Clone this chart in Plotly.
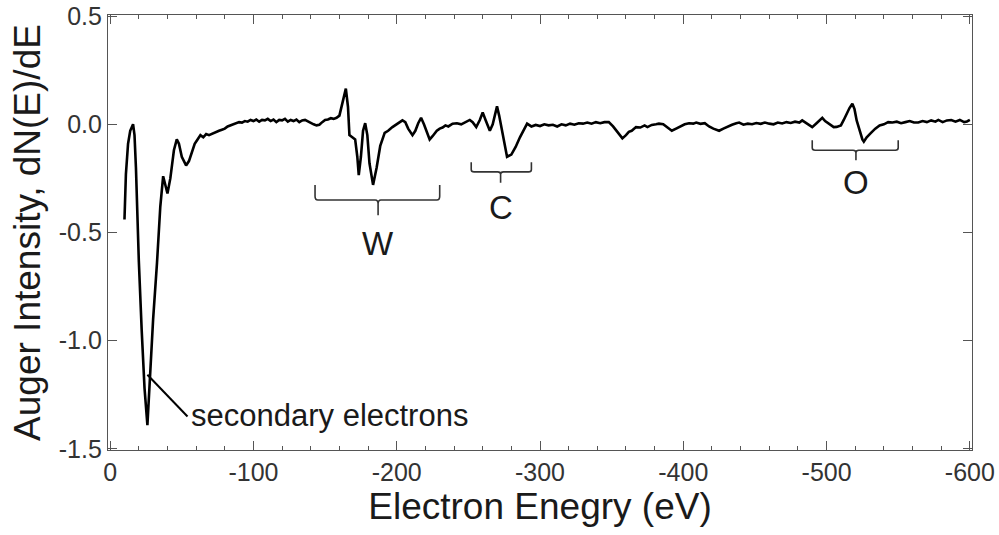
import plotly.graph_objects as go

# ---------------- data ----------------
energy_ev = [10, 11, 12.5, 14, 16, 17, 18, 19, 20, 22, 24, 26, 28, 30, 32.7, 35, 37, 38.5, 40, 42,
             44.5, 46.5, 48, 50, 53, 55, 57, 59, 61, 63, 65, 67, 69, 72, 74, 76, 78, 80, 82, 84,
             86, 88, 90, 92, 94, 96, 98, 100, 102, 104, 106, 108, 110, 112, 114, 116, 118, 120, 122, 124,
             126, 128, 130, 132, 134, 136, 138, 140, 142, 144, 146, 148, 150, 152, 154, 156, 158, 160, 162, 164.5,
             166, 167, 169, 171, 172.5, 173.5, 175, 176.5, 178, 179.5, 181, 183.5, 186, 188.5, 191.6, 194, 197, 199, 201, 204,
             206, 208, 211, 213, 215, 217, 219, 221, 223, 225, 228, 230, 232, 234, 236, 239, 242, 245, 248, 251,
             253, 255.5, 258, 260, 262, 265, 267, 268.5, 270, 271.5, 273, 275, 277, 280, 283, 286, 289, 291, 294, 297,
             300, 303, 306, 309, 312, 315, 318, 321, 324, 327, 330, 333, 336, 339, 342, 345, 348, 351, 354, 357.5,
             360, 362, 364, 367, 370, 373, 375, 378, 381, 383, 386, 389, 392, 395, 398, 401, 404, 407, 409, 412,
             415, 418, 421, 423, 425, 428, 431, 434, 437, 439, 442, 445, 448, 451, 454, 457, 460, 463, 466, 469,
             472, 475, 478, 481, 483, 485, 487, 490, 493, 495, 497, 499, 502, 505, 507, 510, 512, 514, 516, 518,
             519.5, 521, 523, 525, 526, 528, 531, 534, 537, 540, 543, 546, 549, 552, 555, 558, 561, 564, 567, 570,
             573, 576, 578, 581, 584, 587, 590, 593, 596, 598, 600]

intensity = [-0.44, -0.23, -0.09, -0.03, 0.0, -0.05, -0.2, -0.42, -0.63, -0.95, -1.22, -1.39, -1.15, -0.9, -0.64, -0.38, -0.24, -0.28, -0.32, -0.25,
             -0.12, -0.07, -0.09, -0.15, -0.19, -0.17, -0.13, -0.09, -0.07, -0.05, -0.06, -0.045, -0.05, -0.04, -0.035, -0.03, -0.025, -0.02, -0.01, -0.005,
             0.0, 0.005, 0.01, 0.008, 0.015, 0.012, 0.02, 0.015, 0.022, 0.012, 0.02, 0.018, 0.025, 0.015, 0.022, 0.01, 0.02, 0.018, 0.025, 0.012,
             0.02, 0.015, 0.022, 0.01, 0.018, 0.02, 0.012, 0.008, 0.0, -0.005, -0.002, 0.01, 0.02, 0.022, 0.028, 0.025, 0.03, 0.04, 0.09, 0.165,
             0.08, -0.05, -0.06, -0.07, -0.15, -0.235, -0.15, -0.03, 0.005, -0.05, -0.18, -0.28, -0.2, -0.1, -0.04, -0.03, -0.013, -0.005, 0.005, 0.018,
             0.01, -0.02, -0.05, -0.03, 0.005, 0.03, 0.0, -0.04, -0.07, -0.055, -0.03, -0.02, -0.015, -0.005, -0.01, 0.003, 0.005, 0.0, 0.012, 0.02,
             0.01, -0.013, 0.02, 0.055, 0.02, -0.03, 0.0, 0.05, 0.083, 0.04, -0.013, -0.09, -0.15, -0.14, -0.105, -0.06, -0.02, 0.003, -0.01, -0.003,
             -0.008, 0.0, -0.005, -0.002, -0.01, 0.0, -0.005, 0.003, -0.002, 0.005, 0.003, 0.008, 0.003, 0.01, 0.005, 0.01, 0.01, -0.01, -0.035, -0.065,
             -0.05, -0.035, -0.03, -0.013, -0.015, -0.005, -0.013, -0.003, 0.0, 0.003, 0.0, -0.015, -0.03, -0.02, -0.01, 0.0, 0.005, 0.003, 0.008, 0.002,
             0.005, -0.01, -0.02, -0.025, -0.03, -0.02, -0.01, -0.002, 0.005, 0.008, -0.002, 0.003, 0.0, 0.006, 0.002, 0.008, 0.003, 0.0, 0.008, 0.004,
             0.01, 0.006, 0.012, 0.008, 0.018, 0.01, 0.0, -0.013, 0.005, 0.02, 0.03, 0.015, 0.0, -0.013, -0.012, -0.005, 0.02, 0.05, 0.075, 0.095,
             0.07, 0.018, -0.03, -0.07, -0.08, -0.06, -0.04, -0.02, -0.005, 0.0, 0.01, 0.008, 0.012, 0.005, 0.01, 0.015, 0.008, 0.008, 0.015, 0.01,
             0.018, 0.012, 0.02, 0.01, 0.018, 0.02, 0.012, 0.02, 0.01, 0.013, 0.02]

x_tick_vals = [0, -100, -200, -300, -400, -500, -600]
x_tick_text = ["0", "-100", "-200", "-300", "-400", "-500", "-600"]
y_tick_vals = [0.5, 0.0, -0.5, -1.0, -1.5]
y_tick_text = ["0.5", "0.0", "-0.5", "-1.0", "-1.5"]

# element brackets: label, energy low, energy high, centre, y of ends, y of bar, y of stem, y of label
bracket_labels = ["W", "C", "O"]
bracket_lo = [143, 252, 490]
bracket_hi = [230, 294, 550]
bracket_mid = [187, 272.5, 520.5]
bracket_top = [-0.28, -0.175, -0.074]
bracket_bar = [-0.35, -0.22, -0.12]
bracket_stem = [-0.42, -0.27, -0.166]
bracket_text_y = [-0.55, -0.385, -0.27]

callout_text = "secondary electrons"
callout_from = (26, -1.157)
callout_to = (54, -1.35)

FONT = "Liberation Sans, Arial"

# ---------------- figure ----------------
x_vals = [-e for e in energy_ev]

fig = go.Figure()
fig.add_trace(go.Scatter(x=x_vals, y=intensity, mode="lines",
                         line=dict(color="black", width=2.6), showlegend=False,
                         hoverinfo="skip"))

shapes = []
annotations = []
for lab, lo, hi, mid, yt, yb, ys, ty in zip(bracket_labels, bracket_lo, bracket_hi, bracket_mid,
                                          bracket_top, bracket_bar, bracket_stem, bracket_text_y):
    x0, x1, xc = -lo, -hi, -mid
    dx = 2.0
    dy = (yt - yb) * 0.25
    path = (f"M {x0},{yt} L {x0},{yb + dy} Q {x0},{yb} {x0 - dx},{yb} "
            f"L {xc + dx},{yb} Q {xc},{yb} {xc},{yb - dy} L {xc},{ys} "
            f"M {xc},{yb - dy} Q {xc},{yb} {xc - dx},{yb} "
            f"L {x1 + dx},{yb} Q {x1},{yb} {x1},{yb + dy} L {x1},{yt}")
    shapes.append(dict(type="path", path=path, xref="x", yref="y",
                       line=dict(color="#333333", width=1.6)))
    annotations.append(dict(x=xc, y=ty, xref="x", yref="y", text=lab, showarrow=False,
                            font=dict(family=FONT, size=33, color="#1a1a1a")))

shapes.append(dict(type="line", xref="x", yref="y",
                   x0=-callout_from[0], y0=callout_from[1], x1=-callout_to[0], y1=callout_to[1],
                   line=dict(color="black", width=2)))
annotations.append(dict(x=-callout_to[0] - 1.0, y=callout_to[1] + 0.005, xref="x", yref="y",
                        text=callout_text, showarrow=False, xanchor="left", yanchor="middle",
                        font=dict(family=FONT, size=31, color="#1a1a1a")))

axis_common = dict(showline=True, linecolor="#555555", linewidth=1.2, mirror="ticks",
                   ticks="inside", tickcolor="#555555", ticklen=9, tickwidth=1.2,
                   showgrid=False, zeroline=False, automargin=False,
                   tickfont=dict(family=FONT, size=25, color="#333333"))

fig.update_xaxes(range=[1.5, -601.5], tickmode="array", tickvals=x_tick_vals, ticktext=x_tick_text,
                 minor=dict(ticks="inside", dtick=20, tick0=0, ticklen=4, tickcolor="#555555"),
                 title=dict(text="Electron Enegry (eV)", standoff=8,
                            font=dict(family=FONT, size=37, color="#1a1a1a")),
                 **axis_common)
fig.update_yaxes(range=[-1.505, 0.505], tickmode="array", tickvals=y_tick_vals, ticktext=y_tick_text,
                 title=dict(text="Auger Intensity, dN(E)/dE", standoff=6,
                            font=dict(family=FONT, size=37, color="#1a1a1a")),
                 **axis_common)

fig.update_layout(width=999, height=535, margin=dict(l=108, r=27, t=15, b=85),
                  paper_bgcolor="white", plot_bgcolor="white",
                  shapes=shapes, annotations=annotations)

fig.write_html("out.html")
